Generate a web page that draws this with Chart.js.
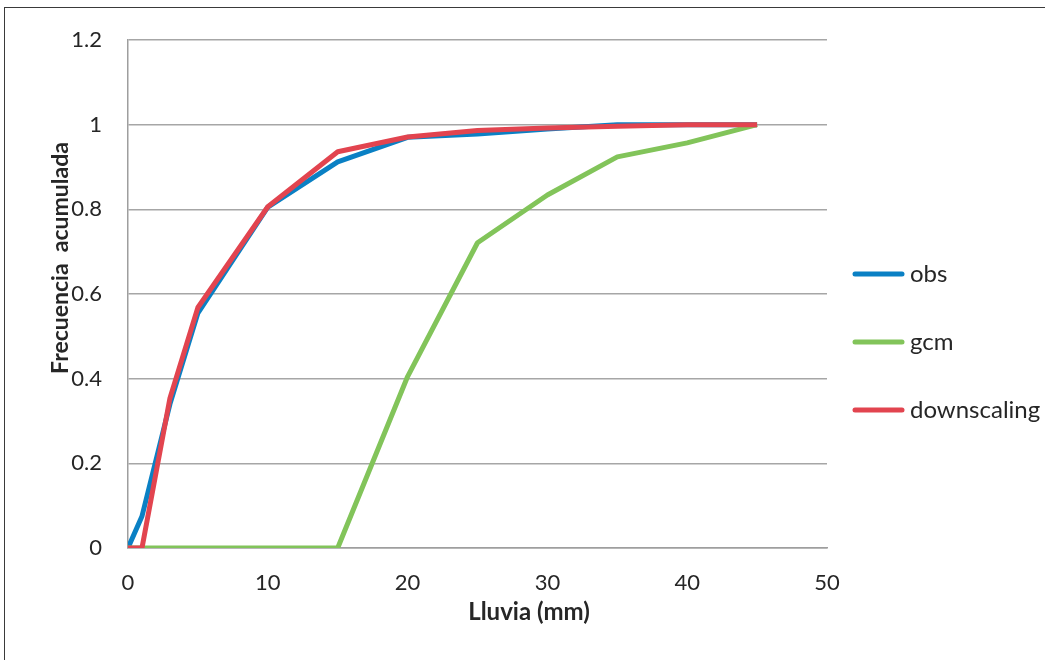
<!DOCTYPE html>
<html>
<head>
<meta charset="utf-8">
<script src="https://cdn.jsdelivr.net/npm/chart.js@4"></script>
<style>
    html, body { margin: 0; padding: 0; background: #fff; }
    #wrap { position: relative; width: 1045px; height: 660px; overflow: hidden; }
    #frame { position: absolute; left: 4px; top: 7px; width: 1100px; height: 700px;
             border-left: 1px solid #3a3a3a; border-top: 1px solid #3a3a3a; }
    canvas { position: absolute; left: 0; top: 0; }
</style>
</head>
<body>
<div id="wrap">
    <div id="frame"></div>
    <canvas id="chart" width="1045" height="660"></canvas>
</div>
<script>
// Data
const rainMm = [0, 1, 3, 5, 10, 15, 20, 25, 30, 35, 40, 45];
const obsValues = [0, 0.075, 0.34, 0.555, 0.805, 0.912, 0.97, 0.978, 0.99, 1.0, 1.0, 1.0];
const gcmValues = [0, 0, 0, 0, 0, 0, 0.405, 0.721, 0.834, 0.924, 0.957, 1.0];
const downscalingValues = [0, 0, 0.354, 0.568, 0.806, 0.936, 0.971, 0.986, 0.992, 0.996, 1.0, 1.0];
const seriesNames = ['obs', 'gcm', 'downscaling'];
const xTitle = 'Lluvia (mm)';
const yTitle = 'Frecuencia  acumulada';

const FONT = 'Lato, "Open Sans", sans-serif';
const TEXT_COLOR = '#262626';

function toPoints(values) {
    return rainMm.map((x, i) => ({ x: x, y: values[i] }));
}

// Titles and legend placed like the original (Excel puts them off-centre)
const decorations = {
    id: 'decorations',
    afterDraw(chart) {
        const ctx = chart.ctx;
        ctx.save();
        ctx.fillStyle = TEXT_COLOR;
        ctx.font = 'bold 24px ' + FONT;
        ctx.textAlign = 'center';
        ctx.textBaseline = 'middle';
        ctx.fillText(xTitle, 529, 612);

        ctx.save();
        ctx.translate(61, 258);
        ctx.rotate(-Math.PI / 2);
        ctx.font = 'bold 23px ' + FONT;
        ctx.fillText(yTitle, 0, 0);
        ctx.restore();

        // Legend
        const rows = [274, 342, 410];
        ctx.font = '24px ' + FONT;
        ctx.textAlign = 'left';
        chart.data.datasets.forEach((ds, i) => {
            const y = rows[i];
            ctx.strokeStyle = ds.borderColor;
            ctx.lineWidth = ds.borderWidth;
            ctx.lineCap = 'round';
            ctx.beginPath();
            ctx.moveTo(855, y);
            ctx.lineTo(902, y);
            ctx.stroke();
            ctx.fillStyle = TEXT_COLOR;
            ctx.fillText(ds.label, 910, y);
        });
        ctx.restore();
    }
};

new Chart(document.getElementById('chart'), {
    type: 'line',
    data: {
        datasets: [
            {
                label: seriesNames[0],
                data: toPoints(obsValues),
                borderColor: '#0a80c4',
                borderWidth: 5,
                order: 2
            },
            {
                label: seriesNames[1],
                data: toPoints(gcmValues),
                borderColor: '#82c45a',
                borderWidth: 5,
                order: 1
            },
            {
                label: seriesNames[2],
                data: toPoints(downscalingValues),
                borderColor: '#e2444f',
                borderWidth: 5,
                order: 0
            }
        ]
    },
    options: {
        responsive: false,
        animation: false,
        elements: {
            point: { radius: 0 },
            line: { tension: 0, fill: false, borderJoinStyle: 'round' }
        },
        layout: {
            padding: { left: 0, right: 218, top: 40, bottom: 0 }
        },
        scales: {
            x: {
                type: 'linear',
                min: 0,
                max: 50,
                afterFit: scale => { scale.height = 112; },
                border: { display: true, color: '#9e9e9e', width: 1.5 },
                grid: { display: false, drawTicks: false },
                ticks: {
                    stepSize: 10,
                    padding: 22,
                    color: TEXT_COLOR,
                    font: { family: FONT, size: 22 }
                }
            },
            y: {
                min: 0,
                max: 1.2,
                afterFit: scale => { scale.width = 128; },
                border: { display: true, color: '#9e9e9e', width: 1.5 },
                grid: { color: '#a6a6a6', lineWidth: 1.5, drawTicks: false },
                ticks: {
                    stepSize: 0.2,
                    padding: 26,
                    color: TEXT_COLOR,
                    font: { family: FONT, size: 22 },
                    callback: v => String(+v.toFixed(1))
                }
            }
        },
        plugins: {
            legend: { display: false },
            tooltip: { enabled: false }
        }
    },
    plugins: [decorations]
});
</script>
</body>
</html>
